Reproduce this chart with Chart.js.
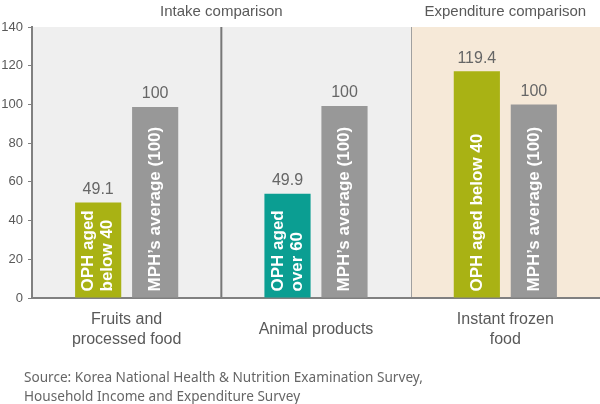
<!DOCTYPE html>
<html><head><meta charset="utf-8">
<script src="https://cdn.jsdelivr.net/npm/chart.js@4.4.1/dist/chart.umd.min.js"></script>
<style>
html,body{margin:0;padding:0;background:#fff;}
#wrap{position:relative;width:600px;height:404px;overflow:hidden;font-family:"Liberation Sans",Arial,sans-serif;}
canvas{position:absolute;left:0;top:0;}
.hdr{position:absolute;top:2px;font-size:15px;color:#595959;white-space:nowrap;transform:translateX(-50%);line-height:18px;}
#src{position:absolute;left:24px;top:367px;font-size:13.6px;line-height:19px;color:#666;font-family:"Noto Sans",sans-serif;white-space:nowrap;}
</style></head>
<body><div id="wrap"><canvas id="c" width="600" height="404"></canvas>
<div class="hdr" id="h1"></div>
<div class="hdr" id="h2"></div>
<div id="src"></div>
</div>
<script>
// ---- data ----
const categories = [["Fruits and", "processed food"], "Animal products", ["Instant frozen", "food"]];
const ophValues = [49.4, 53.8, 117.2];
const mphValues = [98.7, 99.2, 100];
const ophValueLabels = ["49.1", "49.9", "119.4"];
const mphValueLabels = ["100", "100", "100"];
const ophBarText = [["OPH aged", "below 40"], ["OPH aged", "over 60"], ["OPH aged below 40"]];
const mphBarText = [["MPH’s average (100)"], ["MPH’s average (100)"], ["MPH’s average (100)"]];
const yTickValues = [0, 20, 40, 60, 80, 100, 120, 140];
const sectionHeaders = ["Intake comparison", "Expenditure comparison"];
const sourceLines = ["Source: Korea National Health & Nutrition Examination Survey,", "Household Income and Expenditure Survey"];

// ---- styles ----
const ophColors = ['#a9b214', '#0b9e92', '#a9b214'];
const mphColor = '#989898';
const sectionFills = ['#efefef', '#efefef', '#f6e9d8'];

const bgPlugin = {
  id: 'bg',
  beforeDraw(chart) {
    const {ctx, chartArea: a, scales: {x}} = chart;
    const p = categories.map((c, i) => x.getPixelForValue(i));
    const half = (p[1] - p[0]) / 2;
    ctx.save();
    p.forEach((cx, i) => {
      ctx.fillStyle = sectionFills[i];
      ctx.fillRect(cx - half, a.top, 2 * half, a.bottom - a.top);
    });
    ctx.strokeStyle = '#777';
    ctx.lineWidth = 2;
    ctx.beginPath();
    ctx.moveTo((p[0] + p[1]) / 2, a.top); ctx.lineTo((p[0] + p[1]) / 2, a.bottom);
    ctx.stroke();
    ctx.strokeStyle = '#a0a0a0';
    ctx.lineWidth = 1;
    ctx.beginPath();
    ctx.moveTo(Math.round((p[1] + p[2]) / 2) + 0.5, a.top); ctx.lineTo(Math.round((p[1] + p[2]) / 2) + 0.5, a.bottom);
    ctx.stroke();
    ctx.restore();
  }
};

const labelPlugin = {
  id: 'barLabels',
  afterDatasetsDraw(chart) {
    const ctx = chart.ctx;
    chart.data.datasets.forEach((ds, di) => {
      const meta = chart.getDatasetMeta(di);
      const vals = di === 0 ? ophValueLabels : mphValueLabels;
      const texts = di === 0 ? ophBarText : mphBarText;
      meta.data.forEach((bar, i) => {
        ctx.save();
        ctx.fillStyle = '#666';
        ctx.font = '16px "Liberation Sans", Arial, sans-serif';
        ctx.textAlign = 'center';
        ctx.textBaseline = 'middle';
        ctx.fillText(vals[i], bar.x, bar.y - 13);
        ctx.translate(bar.x, bar.base - 6);
        ctx.rotate(-Math.PI / 2);
        ctx.fillStyle = '#fff';
        ctx.font = 'bold 17px "Liberation Sans", Arial, sans-serif';
        ctx.textAlign = 'left';
        const lines = texts[i];
        lines.forEach((t, k) => ctx.fillText(t, 0, (k - (lines.length - 1) / 2) * 19));
        ctx.restore();
      });
    });
  }
};

const chart = new Chart(document.getElementById('c'), {
  type: 'bar',
  data: {
    labels: categories,
    datasets: [
      {label: 'OPH', data: ophValues, backgroundColor: ophColors, categoryPercentage: 0.602, barPercentage: 0.81},
      {label: 'MPH', data: mphValues, backgroundColor: mphColor, categoryPercentage: 0.602, barPercentage: 0.81}
    ]
  },
  options: {
    responsive: false,
    animation: false,
    devicePixelRatio: 1,
    layout: {padding: {top: 27, bottom: 46, left: 0, right: 0}},
    plugins: {legend: {display: false}, tooltip: {enabled: false}},
    scales: {
      x: {
        grid: {display: false},
        border: {color: '#808080', width: 2},
        ticks: {font: {size: 16, family: '"Liberation Sans", Arial, sans-serif', lineHeight: 1.2}, color: '#595959', padding: 14, crossAlign: 'center', maxRotation: 0, autoSkip: false},
        afterFit(s) { s.height = 60; }
      },
      y: {
        min: 0, max: 140,
        afterBuildTicks(s) { s.ticks = yTickValues.map(v => ({value: v})); },
        grid: {drawOnChartArea: false, drawTicks: true, tickLength: 4, color: '#808080'},
        border: {color: '#808080', width: 2},
        ticks: {font: {size: 13, family: '"Liberation Sans", Arial, sans-serif'}, color: '#595959', padding: 5},
        afterFit(s) { s.width = 32; }
      }
    }
  },
  plugins: [bgPlugin, labelPlugin]
});

const xs = chart.scales.x;
const h1 = document.getElementById('h1');
const h2 = document.getElementById('h2');
h1.textContent = sectionHeaders[0];
h2.textContent = sectionHeaders[1];
h1.style.left = ((xs.getPixelForValue(0) + xs.getPixelForValue(1)) / 2) + 'px';
h2.style.left = xs.getPixelForValue(2) + 'px';
const src = document.getElementById('src');
sourceLines.forEach((t, i) => { if (i) src.appendChild(document.createElement('br')); src.appendChild(document.createTextNode(t)); });
</script>
</body></html>
